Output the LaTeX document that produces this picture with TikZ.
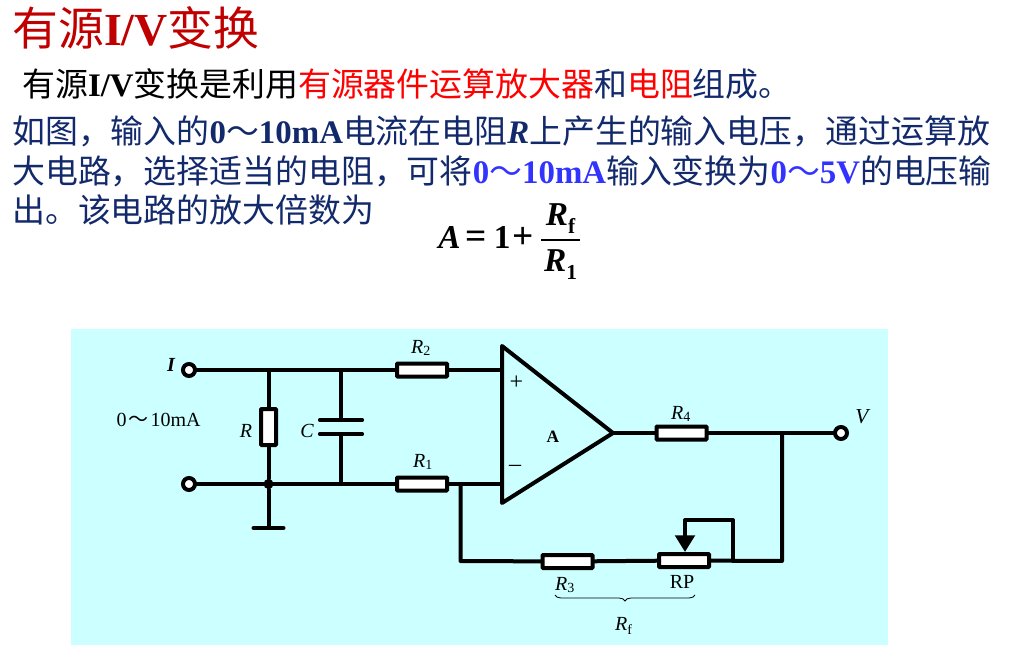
\documentclass[tikz,border=0pt]{standalone}
\usepackage{fontspec}
\setmainfont{Noto Sans CJK SC}
\newfontfamily\serif{Liberation Serif}
\usepackage{amsmath}
\usepackage{xcolor}
\usetikzlibrary{arrows.meta,decorations.pathreplacing,positioning}
\definecolor{navy}{HTML}{12296B}
\definecolor{deepred}{HTML}{C00000}
\definecolor{purered}{HTML}{FF0000}
\definecolor{brightblue}{HTML}{3333FF}
\definecolor{panel}{HTML}{CCFFFF}
\newcommand{\bsf}[1]{\mbox{\serif\bfseries #1}}
\newcommand{\bit}[1]{\mbox{\serif\bfseries\itshape #1}}
\newcommand{\bop}[1]{\mbox{\serif\bfseries\fontsize{28}{28}\selectfont #1}}
\newcommand{\bsub}[1]{\smash{\raisebox{-6pt}{\serif\bfseries\fontsize{16}{16}\selectfont #1}}}
\newcommand{\sub}[1]{\textsubscript{\upshape #1}}

\begin{document}
\begin{tikzpicture}[
    x=0.75pt,y=-0.75pt,
  line/.style={anchor=base west,inner sep=0pt,font=\fontsize{24.67}{24.67}\selectfont},
  wire/.style={line width=3pt,line cap=round,line join=round},
  res/.style={rectangle,draw,fill=white,line width=3pt,inner sep=0pt,rounded corners=0.5pt},
  hres/.style={res,minimum width=37.5pt,minimum height=9.75pt},
  vres/.style={res,minimum width=11.25pt,minimum height=27pt},
  term/.style={circle,draw,fill=white,line width=3pt,inner sep=0pt,minimum size=9pt},
  joint/.style={circle,fill=black,inner sep=0pt,minimum size=7.5pt},
  lab/.style={inner sep=0pt,font=\serif\fontsize{15}{15}\selectfont},
  ital/.style={lab,font=\serif\itshape\fontsize{15}{15}\selectfont},
]

  \useasboundingbox (0,0) rectangle (1029,667);
  \fill[panel] (71,329) rectangle (888,644.5);

  \node[line,text=deepred,font=\fontsize{34.4}{34.4}\selectfont] (title) at (12,46) {有源\bsf{I/V}变换};
  \node[line,text=black] (intro) at (22,97) {有源\bsf{I/V}变换是利用\textcolor{purered}{有源器件运算放大器}\textcolor{navy}{和}\textcolor{purered}{电阻}\textcolor{navy}{组成。}};
  \node[line,text=navy] (para1) at (12,143) {如图，输入的\bsf{0}～\bsf{10mA}电流在电阻\bit{R}上产生的输入电压，通过运算放};
  \node[line,text=navy] (para2) at (12,183) {大电路，选择适当的电阻，可将\textcolor{brightblue}{\bsf{0}～\bsf{10mA}}输入变换为\textcolor{brightblue}{\bsf{0}～\bsf{5V}}的电压输};
  \node[line,text=navy] (para3) at (12,222) {出。该电路的放大倍数为};

  \node[inner sep=0pt,anchor=west,font=\fontsize{25}{25}\selectfont] (gain) at (438,238)
    {$\bit{A}\hspace{4pt}\bop{=}\hspace{5pt}\bsf{1}\hspace{1.5pt}\bop{+}\hspace{4.5pt}\dfrac{\rule[-4.5pt]{0pt}{1pt}\makebox[29pt]{\bit{R}\bsub{f}}}{\rule{0pt}{20.5pt}\makebox[29pt]{\bit{R}\bsub{1}}}$};

  \node[term] (in) at (189,370) {};
  \node[term] (gnd) at (189,484) {};
  \node[term] (out) at (841,433) {};
  \node[hres] (R2) at (422,370) {};
  \node[hres] (R1) at (422,484) {};
  \node[hres] (R4) at (681.5,433) {};
  \node[hres] (R3) at (567.5,561.5) {};
  \node[hres] (RP) at (684,560.5) {};
  \node[vres] (R) at (268.5,427) {};
  \node[joint] (dot) at (268.5,484) {};

  \coordinate (ampP) at (502,346);
  \coordinate (ampN) at (502,503);
  \coordinate (ampO) at (613,433);
  \coordinate (inP) at (502,370);
  \coordinate (inN) at (502,484);
  \coordinate (topR) at (268.5,370);
  \coordinate (topC) at (341,370);
  \coordinate (botC) at (341,484);
  \coordinate (plateA) at (341,420);
  \coordinate (plateB) at (341,434);
  \coordinate (fbL) at (460.5,484);
  \coordinate (fbLD) at (460.5,561);
  \coordinate (fbR) at (782,433);
  \coordinate (fbRD) at (782,561);
  \coordinate (wipA) at (733,561);
  \coordinate (wipB) at (733,520);
  \coordinate (wipC) at (685,520);
  \coordinate (earth) at (268.5,528);
  \coordinate (brL) at (555,595);
  \coordinate (brR) at (695,595);

  \draw[wire] (in) -- (R2) -- (inP);
  \draw[wire] (gnd) -- (R1) -- (inN);
  \draw[wire] (topR) -- (R);
  \draw[wire] (R) -- (dot) -- (earth);
  \draw[wire] ([xshift=-11.25pt]earth) -- ([xshift=11.25pt]earth);
  \draw[wire] (topC) -- (plateA);
  \draw[wire] (plateB) -- (botC);
  \draw[wire,line width=2.6pt] ([xshift=-16pt]plateA) -- ([xshift=16pt]plateA);
  \draw[wire,line width=2.6pt] ([xshift=-16pt]plateB) -- ([xshift=16pt]plateB);
  \draw[wire] (ampP) -- (ampN) -- (ampO) -- cycle;
  \draw[wire] (ampO) -- (R4) -- (out);
  \draw[wire] (fbL) -- (fbLD) -- (R3) -- (RP);
  \draw[wire] (RP) -- (fbRD) -- (fbR);
  \draw[wire] (wipA) -- (wipB) -- (wipC) -- ([yshift=-8pt]wipC);
  \draw[-{Triangle[length=12.5pt,width=14.5pt]},line width=3pt] ([yshift=-8pt]wipC) -- (RP.north -| wipC);
  \draw[line width=0.6pt,decorate,decoration={brace,mirror,amplitude=4.5pt}] (brL) -- (brR);

  \node[ital,font=\serif\bfseries\itshape\fontsize{15}{15}\selectfont] (Ilab) at (171,365) {I};
  \node[ital,font=\serif\itshape\fontsize{16}{16}\selectfont] (Vlab) at (862,417) {V};
  \node[lab] (range) at (158.5,420) {0\hspace{1.5pt}{\fontspec{Noto Sans CJK SC}\fontsize{15}{15}\selectfont ～}\hspace{1.5pt}10mA};
  \node[ital] (Rlab) at (246,431) {R};
  \node[ital] (Clab) at (307,431) {C};
  \node[ital] (R2lab) at (421,348) {R\sub{2}};
  \node[ital] (R1lab) at (423,462) {R\sub{1}};
  \node[ital] (R4lab) at (681,414) {R\sub{4}};
  \node[ital] (R3lab) at (565,585) {R\sub{3}};
  \node[lab] (RPlab) at (682,582) {RP};
  \node[ital] (Rflab) at (624,626) {R\sub{f}};
  \node[lab,font=\serif\bfseries\fontsize{13}{13}\selectfont] (Alab) at (553,437) {A};
  \node[lab,font=\serif\fontsize{18}{18}\selectfont] (plus) at (516.5,383) {+};
  \node[lab,font=\serif\fontsize{18}{18}\selectfont] (minus) at (515,468) {–};
\end{tikzpicture}
\end{document}
